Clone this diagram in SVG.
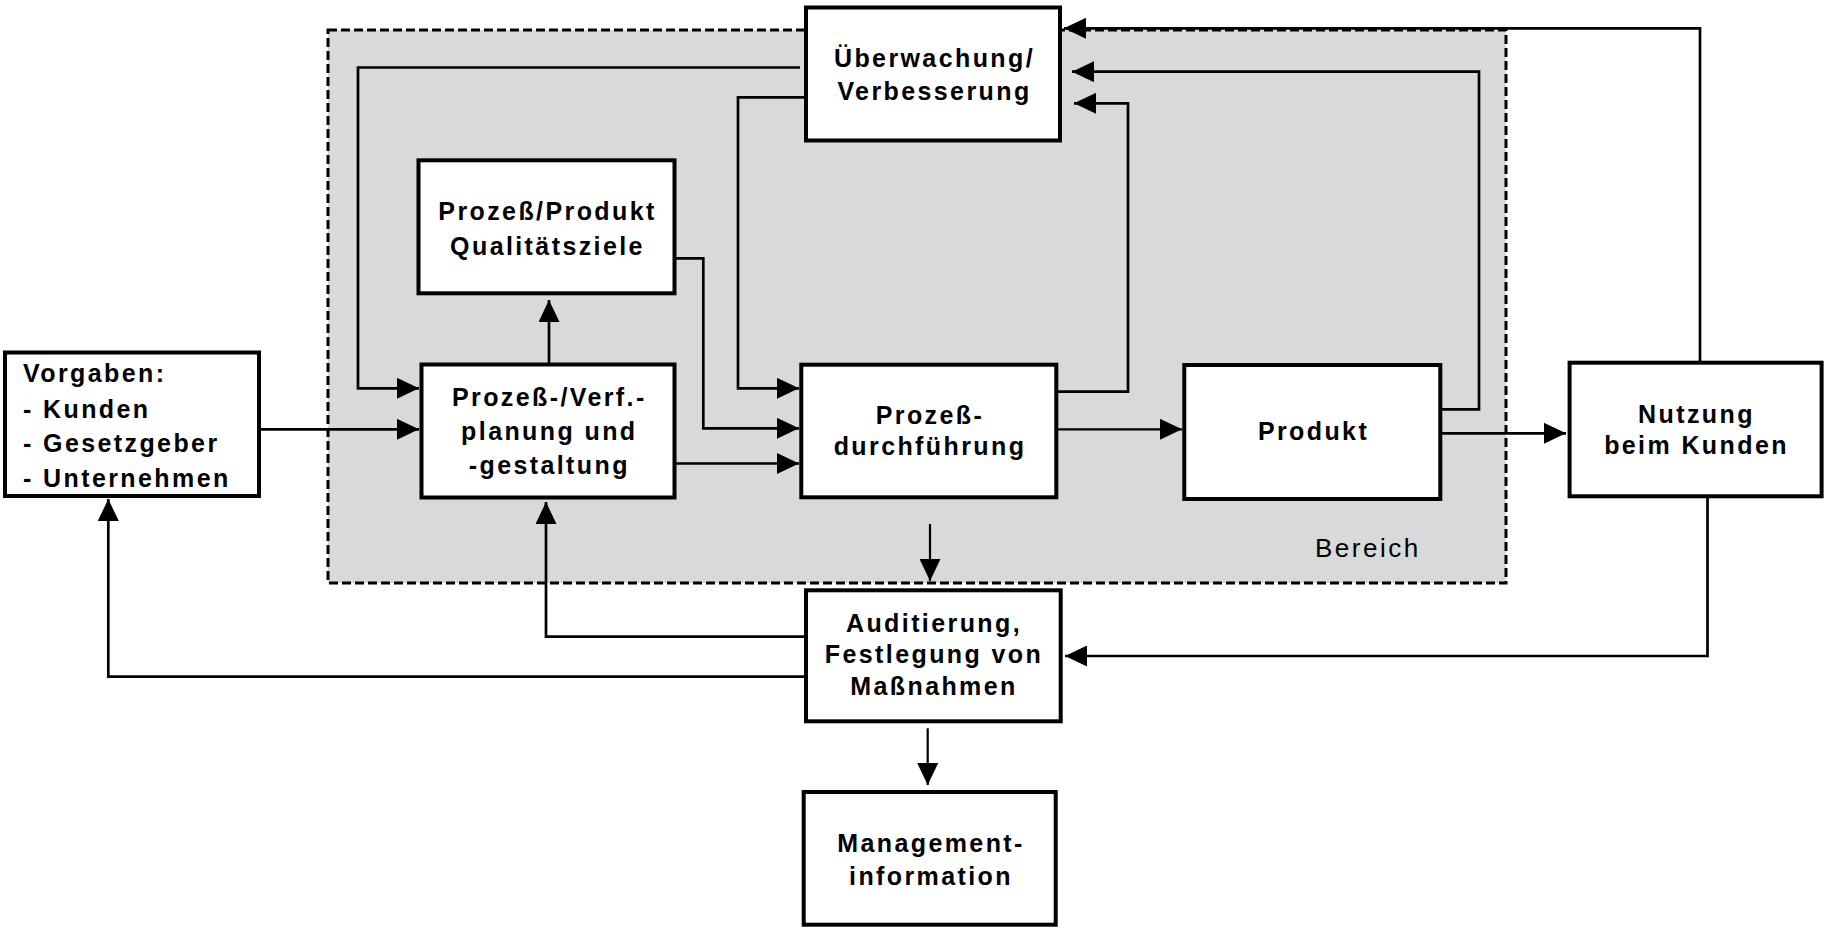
<svg xmlns="http://www.w3.org/2000/svg" width="1825" height="928" viewBox="0 0 1825 928">
<style>
.box{fill:#fff;stroke:#000;stroke-width:4}
.t{font-family:"Liberation Sans",Arial,sans-serif;font-weight:bold;font-size:25px;letter-spacing:2.4px;fill:#000}
.c{text-anchor:middle}
.ln{fill:none;stroke:#000;stroke-width:2.7}
.thin{stroke-width:2.2}
.ar{marker-end:url(#arr)}
</style>
<defs>
<marker id="arr" viewBox="0 0 22 21" refX="22" refY="10.5" markerWidth="22" markerHeight="21" orient="auto" markerUnits="userSpaceOnUse">
<path d="M0,0 L22,10.5 L0,21 z" fill="#000"/>
</marker>
</defs>
<rect width="1825" height="928" fill="#fff"/>
<g id="bereich">
<rect x="328" y="30" width="1178" height="553" fill="#d9d9d9" stroke="#000" stroke-width="3" stroke-dasharray="9 4"/>
<text x="1315" y="557" font-family="'Liberation Sans',Arial,sans-serif" font-size="26" letter-spacing="2.5" fill="#000">Bereich</text>
</g>
<g id="connectors">
<path class="ln ar" d="M261,429.3 H419"/>
<path class="ln ar" d="M800,67.5 H358 V388.3 H419"/>
<path class="ln ar" d="M549,363 V300"/>
<path class="ln ar" d="M676,258.3 H703.3 V428.3 H799"/>
<path class="ln ar" d="M804,97.3 H738 V388.3 H799"/>
<path class="ln ar" d="M676,463.5 H799"/>
<path class="ln ar" d="M1058,391.7 H1128 V103.3 H1074"/>
<path class="ln thin ar" d="M1058,429.3 H1182"/>
<path class="ln ar" d="M1442,409.3 H1479 V71.7 H1072"/>
<path class="ln ar" d="M1442,433.3 H1566"/>
<path class="ln ar" d="M1700,361 V28.3 H1064"/>
<path class="ln ar" d="M1707.5,498 V656 H1065"/>
<path class="ln thin ar" d="M930,524 V581"/>
<path class="ln ar" d="M804,636.7 H546 V502"/>
<path class="ln ar" d="M804,676.7 H108.3 V499"/>
<path class="ln thin ar" d="M927.7,728.3 V785"/>
</g>
<g id="vorgaben">
<rect class="box" x="5" y="352.5" width="254" height="143.5"/>
<text class="t" x="23" y="382">Vorgaben:</text>
<text class="t" x="23" y="417.5">- Kunden</text>
<text class="t" x="23" y="452">- Gesetzgeber</text>
<text class="t" x="23" y="487">- Unternehmen</text>
</g>
<g id="qualitaetsziele">
<rect class="box" x="418.5" y="160.3" width="256" height="133"/>
<text class="t c" x="547.5" y="220">Prozeß/Produkt</text>
<text class="t c" x="547.5" y="255">Qualitätsziele</text>
</g>
<g id="planung">
<rect class="box" x="421.5" y="364.5" width="253" height="133"/>
<text class="t c" x="549.3" y="406">Prozeß-/Verf.-</text>
<text class="t c" x="549.3" y="440">planung und</text>
<text class="t c" x="549.3" y="474">-gestaltung</text>
</g>
<g id="ueberwachung">
<rect class="box" x="806" y="7.5" width="254" height="133"/>
<text class="t c" x="934.5" y="66.5">Überwachung/</text>
<text class="t c" x="934.5" y="100">Verbesserung</text>
</g>
<g id="durchfuehrung">
<rect class="box" x="801.3" y="364.7" width="255" height="132.6"/>
<text class="t c" x="930" y="423.5">Prozeß-</text>
<text class="t c" x="930" y="455">durchführung</text>
</g>
<g id="produkt">
<rect class="box" x="1184.3" y="365" width="256" height="134"/>
<text class="t c" x="1313.5" y="440">Produkt</text>
</g>
<g id="nutzung">
<rect class="box" x="1569.6" y="362.7" width="252" height="133.6"/>
<text class="t c" x="1696.5" y="423.3">Nutzung</text>
<text class="t c" x="1696.5" y="454.3">beim Kunden</text>
</g>
<g id="auditierung">
<rect class="box" x="806" y="590.3" width="254.7" height="131"/>
<text class="t c" x="934" y="631.7">Auditierung,</text>
<text class="t c" x="934" y="663.3">Festlegung von</text>
<text class="t c" x="934" y="695">Maßnahmen</text>
</g>
<g id="management">
<rect class="box" x="803.7" y="792" width="252" height="132.7"/>
<text class="t c" x="931" y="851.7">Management-</text>
<text class="t c" x="931" y="885">information</text>
</g>
</svg>
